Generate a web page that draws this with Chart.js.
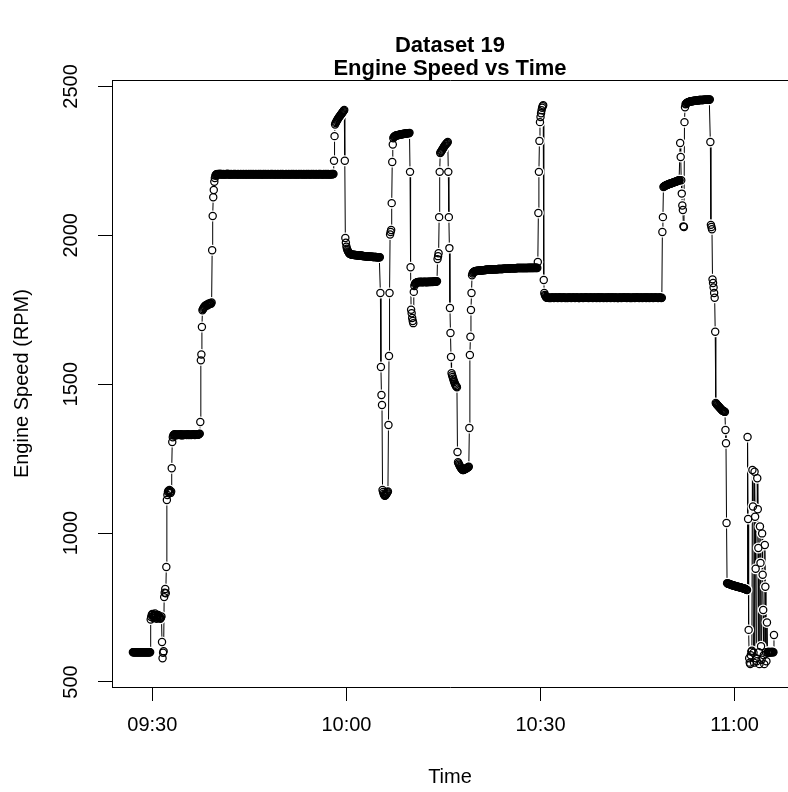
<!DOCTYPE html>
<html>
<head>
<meta charset="utf-8">
<script src="https://cdn.jsdelivr.net/npm/chart.js@4.4.1/dist/chart.umd.min.js"></script>
<style>
  html, body { margin: 0; padding: 0; background: #ffffff; }
  canvas { display: block; }
</style>
</head>
<body>
<canvas id="chart" width="788" height="792"></canvas>
<script>
// Labels
const chartTitle = ['Dataset 19', 'Engine Speed vs Time'];
const xAxisTitle = 'Time';
const yAxisTitle = 'Engine Speed (RPM)';
const xTickTimes = ['09:30', '10:00', '10:30', '11:00'];
const yTickValues = [500, 1000, 1500, 2000, 2500];

// Logger minutes; each row of rpmEvery5s holds the samples taken at :00, :05, :10 ... :55
const logMinutes = [
  '09:27','09:28','09:29','09:30','09:31','09:32','09:33','09:34','09:35','09:36',
  '09:37','09:38','09:39','09:40','09:41','09:42','09:43','09:44','09:45','09:46',
  '09:47','09:48','09:49','09:50','09:51','09:52','09:53','09:54','09:55','09:56',
  '09:57','09:58','09:59',
  '10:00','10:01','10:02','10:03','10:04','10:05','10:06','10:07','10:08','10:09',
  '10:10','10:11','10:12','10:13','10:14','10:15','10:16','10:17','10:18','10:19',
  '10:20','10:21','10:22','10:23','10:24','10:25','10:26','10:27','10:28','10:29',
  '10:30','10:31','10:32','10:33','10:34','10:35','10:36','10:37','10:38','10:39',
  '10:40','10:41','10:42','10:43','10:44','10:45','10:46','10:47','10:48','10:49',
  '10:50','10:51','10:52','10:53','10:54','10:55','10:56','10:57','10:58','10:59',
  '11:00','11:01','11:02','11:03','11:04','11:05','11:06'
];

const rpmEvery5s = [
  [600,600,600,600,600,600,600,600,600,600,600,600],                   // 09:27
  [600,600,600,600,600,600,600,600,600,600,600,600],                   // 09:28
  [600,600,600,600,600,600,600,600,600,710,718,725],                   // 09:29
  [728,722,715,720,726,730,724,718,712,716,722,725],                   // 09:30
  [720,718,715,712,716,720,634,580,598,603,785,800],                   // 09:31
  [812,798,886,1111,1128,1138,1142,1140,1145,1138,1135,1140],          // 09:32
  [1218,1306,1322,1328,1330,1332,1330,1328,1330,1331,1330,1329],       // 09:33
  [1330,1331,1330,1329,1330,1332,1330,1328,1330,1331,1330,1329],       // 09:34
  [1330,1330,1331,1330,1329,1330,1332,1330,1329,1330,1331,1330],       // 09:35
  [1329,1330,1331,1330,1330,1332,1330,1329,1330,1331,1330,1330],       // 09:36
  [1331,1330,1332,1333,1334,1373,1580,1600,1692,1748,1752,1756],       // 09:37
  [1758,1762,1760,1765,1763,1766,1768,1765,1770,1768,1771,1770],       // 09:38
  [1772,1770,1774,1950,2065,2128,2152,2180,2192,2200,2203,2205],       // 09:39
  [2205,2206,2204,2205,2205,2207,2205,2204,2206,2205,2205,2204],       // 09:40
  [2206,2205,2205,2204,2205,2206,2205,2205,2207,2205,2204,2205],       // 09:41
  [2205,2204,2206,2205,2205,2205,2204,2206,2205,2205,2206,2205],       // 09:42
  [2204,2205,2205,2206,2205,2204,2205,2205,2206,2205,2205,2204],       // 09:43
  [2205,2206,2205,2205,2204,2205,2206,2205,2205,2204,2205,2206],       // 09:44
  [2205,2205,2204,2206,2205,2205,2205,2206,2204,2205,2205,2205],       // 09:45
  [2206,2205,2205,2205,2204,2206,2205,2205,2205,2206,2204,2205],       // 09:46
  [2205,2204,2206,2205,2205,2205,2206,2204,2205,2205,2205,2206],       // 09:47
  [2205,2205,2205,2204,2206,2205,2205,2206,2205,2204,2205,2205],       // 09:48
  [2206,2205,2204,2205,2205,2206,2205,2205,2204,2205,2206,2205],       // 09:49
  [2205,2205,2206,2205,2204,2205,2205,2205,2206,2205,2205,2204],       // 09:50
  [2205,2206,2205,2205,2205,2204,2206,2205,2205,2205,2206,2205],       // 09:51
  [2204,2205,2205,2206,2205,2205,2204,2205,2206,2205,2205,2205],       // 09:52
  [2206,2205,2205,2204,2205,2206,2205,2205,2205,2204,2206,2205],       // 09:53
  [2205,2205,2206,2205,2205,2204,2205,2206,2205,2205,2205,2206],       // 09:54
  [2205,2204,2205,2205,2206,2205,2205,2205,2204,2206,2205,2205],       // 09:55
  [2206,2205,2205,2205,2204,2205,2206,2205,2205,2205,2206,2204],       // 09:56
  [2205,2205,2206,2205,2205,2204,2205,2205,2206,2205,2205,2206],       // 09:57
  [2206,2250,2333,2372,2377,2380,2384,2387,2390,2393,2396,2398],       // 09:58
  [2401,2403,2406,2408,2411,2413,2416,2418,2421,2250,1991,1975],       // 09:59
  [1962,1955,1950,1946,1943,1940,1938,1937,1936,1936,1935,1935],       // 10:00
  [1935,1935,1934,1934,1934,1934,1933,1933,1933,1933,1932,1932],       // 10:01
  [1932,1932,1932,1931,1931,1931,1931,1930,1930,1930,1930,1930],       // 10:02
  [1930,1929,1929,1929,1929,1929,1928,1928,1928,1928,1928,1928],       // 10:03
  [1928,1927,1927,1927,1927,1927,1927,1927,1926,1926,1926,1926],       // 10:04
  [1926,1926,1926,1806,1558,1464,1430,1145,1138,1132,1128,1125],       // 10:05
  [1126,1128,1131,1134,1137,1140,1363,1595,1806,2003,2011,2018],       // 10:06
  [2108,2246,2305,2326,2330,2332,2333,2334,2335,2335,2336,2336],       // 10:07
  [2337,2337,2338,2338,2338,2339,2339,2339,2340,2340,2340,2341],       // 10:08
  [2341,2341,2342,2342,2342,2343,2343,2343,2343,2344,2213,1893],       // 10:09
  [1750,1738,1722,1712,1705,1810,1830,1836,1839,1840,1841,1842],       // 10:10
  [1842,1843,1843,1843,1842,1843,1844,1843,1843,1842,1843,1843],       // 10:11
  [1843,1844,1843,1843,1843,1842,1843,1844,1843,1843,1844,1843],       // 10:12
  [1844,1843,1844,1844,1843,1844,1845,1844,1845,1845,1844,1845],       // 10:13
  [1846,1920,1930,1940,2061,2213,2276,2279,2282,2285,2288,2291],       // 10:14
  [2294,2297,2300,2302,2305,2307,2309,2311,2313,2213,2061,1957],       // 10:15
  [1756,1672,1591,1537,1530,1524,1518,1512,1507,1502,1498,1494],       // 10:16
  [1492,1490,1272,1238,1234,1230,1226,1223,1220,1217,1215,1213],       // 10:17
  [1212,1212,1213,1214,1215,1216,1217,1218,1219,1220,1222,1223],       // 10:18
  [1353,1598,1659,1749,1806,1866,1872,1875,1877,1878,1879,1879],       // 10:19
  [1880,1880,1880,1881,1881,1881,1881,1882,1882,1882,1882,1882],       // 10:20
  [1883,1883,1883,1883,1883,1883,1884,1884,1884,1884,1884,1884],       // 10:21
  [1884,1885,1885,1885,1885,1885,1885,1885,1886,1886,1886,1886],       // 10:22
  [1886,1886,1886,1886,1886,1887,1887,1887,1887,1887,1887,1887],       // 10:23
  [1887,1887,1887,1888,1888,1888,1888,1888,1888,1888,1888,1888],       // 10:24
  [1888,1888,1889,1889,1889,1889,1889,1889,1889,1889,1889,1889],       // 10:25
  [1889,1889,1889,1889,1890,1890,1890,1890,1890,1890,1890,1890],       // 10:26
  [1890,1890,1890,1890,1890,1890,1890,1890,1890,1890,1890,1890],       // 10:27
  [1890,1890,1891,1890,1890,1891,1890,1890,1891,1890,1890,1891],       // 10:28
  [1890,1891,1890,1891,1890,1891,1890,1910,2075,2213,2317,2380],       // 10:29
  [2397,2410,2420,2428,2433,2437,1850,1806,1800,1796,1793,1791],       // 10:30
  [1790,1790,1791,1790,1789,1790,1790,1789,1790,1790,1791,1790],       // 10:31
  [1790,1789,1790,1790,1791,1790,1790,1790,1789,1790,1790,1791],       // 10:32
  [1791,1790,1790,1789,1790,1790,1790,1791,1790,1790,1789,1790],       // 10:33
  [1790,1790,1789,1790,1790,1791,1790,1790,1790,1789,1790,1790],       // 10:34
  [1790,1791,1790,1790,1789,1790,1790,1790,1791,1790,1790,1789],       // 10:35
  [1789,1790,1790,1791,1790,1790,1790,1789,1790,1790,1791,1790],       // 10:36
  [1790,1790,1791,1790,1790,1789,1790,1790,1790,1791,1790,1790],       // 10:37
  [1790,1789,1790,1790,1791,1790,1790,1790,1789,1790,1790,1791],       // 10:38
  [1791,1790,1789,1790,1790,1790,1791,1790,1790,1789,1790,1790],       // 10:39
  [1790,1790,1790,1789,1791,1790,1790,1790,1790,1791,1789,1790],       // 10:40
  [1790,1791,1790,1790,1790,1789,1790,1791,1790,1790,1790,1789],       // 10:41
  [1789,1790,1791,1790,1790,1790,1789,1790,1790,1791,1790,1790],       // 10:42
  [1790,1790,1790,1791,1789,1790,1790,1790,1791,1790,1789,1790],       // 10:43
  [1790,1789,1790,1790,1790,1791,1790,1789,1790,1790,1791,1790],       // 10:44
  [1791,1790,1790,1789,1790,1790,1790,1791,1790,1789,1790,1790],       // 10:45
  [1790,1790,1791,1790,1789,1790,1791,1790,1790,1790,1789,1790],       // 10:46
  [1790,1791,1790,1790,1790,1789,1790,1790,1791,1790,1790,1790],       // 10:47
  [1790,1790,1789,1790,1790,1791,1790,1790,1789,1790,2011,2061],       // 10:48
  [2162,2164,2165,2166,2167,2168,2169,2170,2170,2171,2172,2172],       // 10:49
  [2173,2174,2174,2175,2176,2176,2177,2178,2178,2179,2180,2180],       // 10:50
  [2181,2182,2182,2183,2184,2185,2185,2310,2263,2185,2140,2100],       // 10:51
  [2085,2030,2028,2380,2430,2440,2442,2444,2445,2446,2447,2448],       // 10:52
  [2448,2449,2449,2450,2450,2450,2451,2451,2451,2452,2452,2452],       // 10:53
  [2452,2453,2453,2453,2453,2453,2454,2454,2454,2454,2454,2454],       // 10:54
  [2454,2454,2454,2455,2455,2455,2455,2455,2455,2455,2455,2455],       // 10:55
  [2455,2456,2456,2313,2035,2028,2020,1852,1840,1825,1806,1790],       // 10:56
  [1676,1437,1434,1432,1430,1428,1426,1424,1422,1420,1418,1416],       // 10:57
  [1414,1412,1411,1410,1409,1408,1407,1346,1302,1034,832,831],         // 10:58
  [830,830,829,828,828,827,826,826,825,825,824,823],                   // 10:59
  [823,822,822,821,821,820,820,819,819,818,818,817],                   // 11:00
  [817,816,816,815,815,814,813,813,812,811,810,809],                   // 11:01
  [1323,1047,675,580,565,560,590,602,605,1212,1089,598],               // 11:02
  [565,1206,1055,880,580,570,1184,1080,950,600,560,1022],              // 11:03
  [900,620,575,999,860,742,590,560,960,820,600,570],                   // 11:04
  [700,598,600,602,600,599,600,601,600,600,602,600],                   // 11:05
  [600,658]                                                            // 11:06
];

function toMinutes(hhmm) {
  const [h, m] = hhmm.split(':').map(Number);
  return h * 60 + m;
}
function formatClock(v) {
  const total = Math.round(v);
  const h = Math.floor(total / 60), m = total % 60;
  return String(h).padStart(2, '0') + ':' + String(m).padStart(2, '0');
}

// (x = minutes since midnight, y = rpm)
const samples = [];
logMinutes.forEach((label, i) => {
  const base = toMinutes(label);
  rpmEvery5s[i].forEach((rpm, k) => samples.push({ x: base + k / 12, y: rpm }));
});

Chart.defaults.font.family = "'Liberation Sans', Arial, Helvetica, sans-serif";
Chart.defaults.font.size = 20;
Chart.defaults.color = '#000000';

// Top edge of the plot frame (left and bottom come from the axis borders)
const frameTop = {
  id: 'frameTop',
  afterDatasetsDraw(chart) {
    const { ctx, chartArea: a } = chart;
    const y = Math.round(a.top) + 0.5;
    ctx.save();
    ctx.strokeStyle = '#000000';
    ctx.lineWidth = 1;
    ctx.beginPath();
    ctx.moveTo(a.left, y);
    ctx.lineTo(a.right + 2, y);
    ctx.stroke();
    ctx.restore();
  }
};

new Chart(document.getElementById('chart'), {
  type: 'line',
  data: {
    datasets: [
      { // hollow markers
        data: samples, showLine: false, order: 1,
        pointRadius: 3.6, pointBorderWidth: 1.25,
        pointBorderColor: '#000000', pointBackgroundColor: 'rgba(0,0,0,0)'
      },
      { // white gap around each marker so the trace stops short of it
        data: samples, showLine: false, order: 2,
        pointRadius: 5.5, pointBorderWidth: 0,
        pointBorderColor: '#ffffff', pointBackgroundColor: '#ffffff'
      },
      { // connecting trace
        data: samples, showLine: true, order: 3,
        borderColor: '#000000', borderWidth: 1, tension: 0,
        pointRadius: 0, fill: false
      }
    ]
  },
  options: {
    responsive: false,
    animation: false,
    devicePixelRatio: 1,
    events: [],
    layout: { padding: 0, autoPadding: false },
    plugins: {
      legend: { display: false },
      tooltip: { enabled: false },
      title: {
        display: true,
        text: chartTitle,
        fullSize: false,
        color: '#000000',
        font: { size: 22, weight: 'bold', lineHeight: 1.05 },
        padding: { top: 34, bottom: 0 }
      }
    },
    scales: {
      x: {
        type: 'linear',
        min: 563.77,
        max: 668.25,
        afterBuildTicks: s => { s.ticks = xTickTimes.map(t => ({ value: toMinutes(t) })); },
        afterFit: s => { s.height = 105; s.paddingLeft = 0; s.paddingRight = 0; },
        grid: { drawOnChartArea: false, drawTicks: true, tickLength: 14, color: '#000000', lineWidth: 1 },
        border: { display: true, color: '#000000', width: 1 },
        ticks: { minRotation: 0, maxRotation: 0, padding: 12, color: '#000000',
                 callback: v => formatClock(v) },
        title: { display: true, text: xAxisTitle, color: '#000000', padding: { top: 0, bottom: 3 } }
      },
      y: {
        type: 'linear',
        min: 483.2,
        max: 2520.8,
        afterBuildTicks: s => { s.ticks = yTickValues.map(v => ({ value: v })); },
        afterFit: s => { s.width = 112; },
        grid: { drawOnChartArea: false, drawTicks: true, tickLength: 14, color: '#000000', lineWidth: 1 },
        border: { display: true, color: '#000000', width: 1 },
        ticks: { minRotation: 90, maxRotation: 90, crossAlign: 'center', padding: 4, color: '#000000',
                 callback: v => String(v) },
        title: { display: true, text: yAxisTitle, color: '#000000', padding: { top: 10, bottom: 0 } }
      }
    }
  },
  plugins: [frameTop]
});
</script>
</body>
</html>
